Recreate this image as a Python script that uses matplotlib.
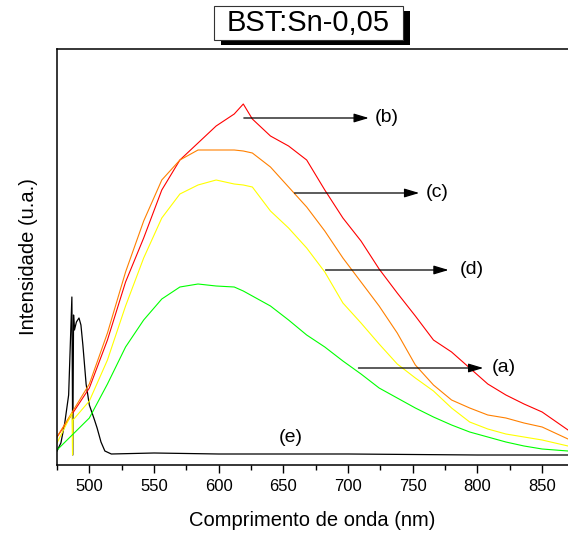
import numpy as np
import matplotlib
matplotlib.use('Agg')
import matplotlib.pyplot as plt
from matplotlib.patches import Rectangle
from matplotlib.ticker import MultipleLocator

plt.rcParams['font.family'] = ['Liberation Sans', 'DejaVu Sans']

# Photoluminescence spectra (arbitrary units)
wavelength = [475, 500, 514, 528, 542, 556, 570, 584, 598, 612, 619, 626, 640, 654,
              668, 682, 696, 710, 724, 738, 752, 766, 780, 794, 808, 822, 836, 850, 870]
int_b = [28, 77, 125, 183, 227, 275, 305, 322, 339, 351, 361, 346, 329, 319,
         305, 275, 247, 224, 196, 172, 149, 125, 113, 97, 81, 70, 61, 53, 35]
int_c = [28, 81, 132, 193, 244, 285, 305, 315, 315, 315, 314, 312, 298, 278,
         258, 234, 207, 183, 159, 132, 100, 80, 65, 57, 50, 47, 42, 38, 26]
int_d = [22, 64, 105, 159, 207, 247, 271, 280, 285, 281, 280, 278, 254, 237,
         217, 193, 162, 142, 121, 101, 87, 74, 57, 43, 36, 31, 28, 25, 19]
int_a = [15, 47, 81, 118, 145, 166, 178, 181, 179, 178, 174, 169, 159, 145,
         130, 118, 104, 91, 77, 67, 57, 48, 40, 33, 28, 23, 19, 16, 14]

# laser line artefact on curve (d)
wl_d_spike = [486.6, 487.0, 487.4]
int_d_spike = [52, 10, 45]

# curve (e)
wl_e = [475, 478, 481, 484, 486.5, 487.2, 487.8, 488.5, 490, 492, 493.5, 495, 497.5,
        500, 504, 506, 509, 512, 517, 550, 600, 700, 800, 870]
int_e = [14, 22, 42, 70, 168, 10, 150, 135, 143, 147, 140, 120, 81,
         60, 45, 37, 23, 14, 11, 12, 11, 11, 10, 10]

# merge the spike into curve (d)
wl_d = np.array(wavelength + wl_d_spike, dtype=float)
vals_d = np.array(int_d + int_d_spike, dtype=float)
order = np.argsort(wl_d)
wl_d, vals_d = wl_d[order], vals_d[order]

# arrows: (label, start wavelength, end wavelength, level, label x)
arrows = [("(b)", 619.4, 716, 347, 729.6),
          ("(c)", 658.6, 755, 272, 768.7),
          ("(d)", 682.6, 777.7, 195, 795.7),
          ("(a)", 708, 804.5, 97, 820)]
label_e = ("(e)", 656, 28)

W, H = 568, 533
fig = plt.figure(figsize=(W / 100, H / 100), dpi=100)
ax = fig.add_axes([57 / W, (H - 465) / H, 1 - 57 / W, 416 / H])

ax.plot(wl_e, int_e, color='black', linewidth=0.9)
ax.plot(wavelength, int_b, color='#ff0000', linewidth=0.8)
ax.plot(wavelength, int_c, color='#ff8000', linewidth=0.8)
ax.plot(wl_d, vals_d, color='#ffff00', linewidth=0.8)
ax.plot(wavelength, int_a, color='#00ff00', linewidth=0.8)

for lab, x0, x1, yv, xt in arrows:
    ax.annotate("", xy=(x1, yv), xytext=(x0, yv),
                arrowprops=dict(arrowstyle='-|>,head_length=0.6,head_width=0.18',
                                color='black', lw=0.9, mutation_scale=15,
                                shrinkA=0, shrinkB=0))
    ax.text(xt, yv, lab, ha='center', va='center', fontsize=14)
ax.text(label_e[1], label_e[2], label_e[0], ha='center', va='center', fontsize=14)

ax.set_xlim(475, 870)
ax.set_ylim(0, 416)
ax.xaxis.set_major_locator(MultipleLocator(50))
ax.xaxis.set_minor_locator(MultipleLocator(25))
ax.tick_params(axis='x', which='major', direction='out', length=6, width=1,
               labelsize=12, pad=4)
ax.tick_params(axis='x', which='minor', direction='out', length=3.5, width=1)
ax.tick_params(axis='y', left=False, labelleft=False)
ax.spines['right'].set_visible(False)
for s in ['left', 'top', 'bottom']:
    ax.spines[s].set_linewidth(1.1)

ax.set_xlabel("Comprimento de onda (nm)", fontsize=14.5, labelpad=12)
ax.set_ylabel("Intensidade (u.a.)", fontsize=14.5, labelpad=14)

# title box with drop shadow
fig.add_artist(Rectangle((221 / W, 1 - 45 / H), 189 / W, 34 / H,
                         transform=fig.transFigure, facecolor='black', edgecolor='none'))
fig.add_artist(Rectangle((214 / W, 1 - 40 / H), 189 / W, 34 / H,
                         transform=fig.transFigure, facecolor='white',
                         edgecolor='#333333', linewidth=0.8))
fig.text(308.5 / W, 1 - 23 / H, "BST:Sn-0,05", ha='center', va='center', fontsize=21)

fig.savefig("out.png", dpi=100)
